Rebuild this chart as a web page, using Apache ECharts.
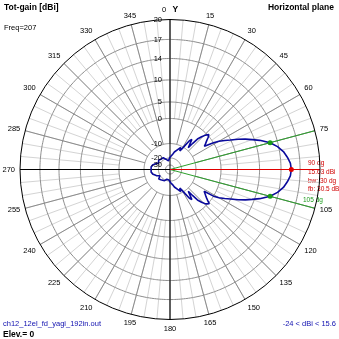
<!DOCTYPE html>
<html><head><meta charset="utf-8">
<script src="https://cdn.jsdelivr.net/npm/echarts@6/dist/echarts.min.js"></script>
<style>html,body{margin:0;padding:0;background:#fff}#c{width:339px;height:339px}</style>
</head><body><div id="c"></div><script>
// Horizontal-plane total gain (dBi) versus azimuth (degrees, 0 = up, clockwise)
const azimuthDeg = [
  0, 2, 6, 10, 14, 18, 21, 24, 26, 28, 30, 32, 34, 36, 38, 40, 41, 42, 44, 46,
  48, 49, 50, 52, 54, 56, 57.5, 58.5, 60, 62, 64, 66, 68, 70, 72, 75, 78, 81, 84, 87,
  90, 93, 96, 99, 102, 105, 108, 110, 112, 114, 116, 118, 120, 121.5, 122.5, 124, 126, 128, 130, 131,
  132, 134, 136, 138, 139, 140, 142, 144, 146, 148, 150, 152, 154, 156, 159, 162, 166, 170, 174, 178,
  180, 182, 186, 190, 194, 198, 202, 206, 210, 214, 218, 222, 226, 230, 234, 238, 242, 246, 250, 254,
  258, 262, 266, 270, 274, 278, 282, 286, 290, 294, 298, 302, 306, 310, 314, 318, 322, 326, 330, 334,
  338, 342, 346, 350, 354, 358, 360
];
const gainDbi = [
  -19.5, -19.0, -18.5, -17.2, -15.5, -14.0, -13.2, -12.0, -11.0, -13.5, -11.5, -9.0, -6.5, -5.5, -7.5, -9.0, -6.5, -4.0, -2.2, -0.6,
  0.4, 0.3, -0.5, -1.8, -2.8, -3.8, -4.2, 0.0, 1.7, 3.3, 4.9, 6.6, 8.1, 9.5, 10.9, 12.63, 13.8, 14.6, 15.1, 15.5,
  15.63, 15.5, 15.1, 14.6, 13.8, 12.63, 10.9, 9.5, 8.1, 6.6, 4.9, 3.3, 1.7, 0.0, -4.2, -3.8, -2.8, -1.8, -0.5, 0.3,
  0.4, -0.6, -2.2, -4.0, -6.5, -9.0, -7.5, -5.5, -6.5, -9.0, -11.5, -13.5, -11.0, -12.0, -13.2, -14.0, -15.5, -17.2, -18.5, -19.0,
  -19.5, -20.0, -21.5, -24.0, -23.0, -21.8, -20.6, -19.4, -18.6, -19.0, -19.8, -18.5, -17.5, -17.8, -18.8, -19.8, -19.0, -17.6, -16.8, -15.8,
  -15.3, -14.8, -14.2, -14.9, -14.2, -14.8, -15.3, -15.8, -16.8, -17.6, -19.0, -19.8, -18.8, -17.8, -17.5, -18.5, -19.8, -19.0, -18.6, -19.4,
  -20.6, -21.8, -23.0, -24.0, -21.5, -20.0, -19.5
];

// Gain scale: labelled rings and their relative radius (outer ring = 1)
const ringDbi = [-30, -20, -10, 0, 5, 10, 14, 17, 20];
const ringRadius = [0.03, 0.077, 0.173, 0.34, 0.45, 0.597, 0.74, 0.867, 1];

// Beam summary
const peakAzimuth = 90;
const peakGain = 15.63;
const beamwidth = 30;
const frontBack = 30.5;
const minGain = -24;
const maxGain = 15.6;

const OUTER = 150;
const CENTER = [170, 169.5];

function gainToRadius(g) {
  if (g <= ringDbi[0]) {
    return Math.max(0, ringRadius[0] * (g + 40) / 10);
  }
  for (let i = 1; i < ringDbi.length; i++) {
    if (g <= ringDbi[i]) {
      const t = (g - ringDbi[i - 1]) / (ringDbi[i] - ringDbi[i - 1]);
      return ringRadius[i - 1] + t * (ringRadius[i] - ringRadius[i - 1]);
    }
  }
  return 1;
}

const FONT = '"Liberation Sans", Arial, sans-serif';
const pattern = azimuthDeg.map((a, i) => [gainToRadius(gainDbi[i]), a]);

const series = [];
// scale rings
ringDbi.slice(0, -1).forEach(g => {
  const r = gainToRadius(g);
  const pts = [];
  for (let a = 0; a <= 360; a += 3) pts.push([r, a]);
  series.push({
    type: 'line', coordinateSystem: 'polar', polarIndex: 0, data: pts,
    showSymbol: false, silent: true, smooth: true, z: 3,
    lineStyle: { color: '#8c8c8c', width: 1 }
  });
});
// ring labels along the 0 deg spoke
series.push({
  type: 'scatter', coordinateSystem: 'polar', polarIndex: 0, z: 20, silent: true,
  symbolSize: 0,
  itemStyle: { opacity: 1 },
  data: ringDbi.map(g => [gainToRadius(g), 0, g]),
  label: {
    show: true, position: 'left', distance: 8, opacity: 1,
    textBorderWidth: 0,
    formatter: p => String(p.data[2]),
    fontFamily: FONT, fontSize: 7.5, color: '#000'
  }
});
// main axes through the centre
series.push({
  type: 'line', coordinateSystem: 'polar', polarIndex: 0, z: 5, silent: true, showSymbol: false,
  data: [[1, 0], [0, 0], [1, 180]], lineStyle: { color: '#000', width: 1 }
});
series.push({
  type: 'line', coordinateSystem: 'polar', polarIndex: 0, z: 5, silent: true, showSymbol: false,
  data: [[1, 270], [0, 0], [1, 90]], lineStyle: { color: '#000', width: 1 }
});
// half-power directions
[peakAzimuth - beamwidth / 2, peakAzimuth + beamwidth / 2].forEach(a => {
  series.push({
    type: 'line', coordinateSystem: 'polar', polarIndex: 0, z: 6, silent: true, showSymbol: false,
    data: [[0, a], [1, a]], lineStyle: { color: '#2ca02c', width: 1 }
  });
});
// peak direction
series.push({
  type: 'line', coordinateSystem: 'polar', polarIndex: 0, z: 6, silent: true, showSymbol: false,
  data: [[0, peakAzimuth], [1, peakAzimuth]], lineStyle: { color: '#e00000', width: 1 }
});
// gain pattern
series.push({
  type: 'line', coordinateSystem: 'polar', polarIndex: 0, z: 10, silent: true, showSymbol: false,
  data: pattern, lineStyle: { color: '#0a0a9c', width: 1.6 }
});
// markers: peak and half-power points
series.push({
  type: 'scatter', coordinateSystem: 'polar', polarIndex: 0, z: 12, silent: true,
  symbolSize: 5, itemStyle: { opacity: 1 },
  data: [
    { value: [gainToRadius(peakGain - 3), peakAzimuth - beamwidth / 2], itemStyle: { color: '#1a9a1a' } },
    { value: [gainToRadius(peakGain - 3), peakAzimuth + beamwidth / 2], itemStyle: { color: '#1a9a1a' } },
    { value: [gainToRadius(peakGain), peakAzimuth], itemStyle: { color: '#e00000' } }
  ]
});

const hiddenRadius = { min: 0, max: 1, show: false, axisLine: { show: false }, axisLabel: { show: false }, splitLine: { show: false }, axisTick: { show: false } };

const option = {
  backgroundColor: '#fff',
  animation: false,
  polar: [
    { center: CENTER, radius: [0, OUTER] },
    { center: CENTER, radius: [OUTER * gainToRadius(-10), OUTER] },
    { center: CENTER, radius: [OUTER * gainToRadius(0), OUTER] }
  ],
  radiusAxis: [
    Object.assign({ polarIndex: 0 }, hiddenRadius),
    Object.assign({ polarIndex: 1 }, hiddenRadius),
    Object.assign({ polarIndex: 2 }, hiddenRadius)
  ],
  angleAxis: [
    {
      polarIndex: 0, type: 'value', min: 0, max: 360, interval: 15, startAngle: 90, clockwise: true, z: 8,
      axisLine: { lineStyle: { color: '#000', width: 1 } },
      axisTick: { show: false }, splitLine: { show: false },
      axisLabel: {
        fontFamily: FONT, fontSize: 7.5, color: '#000', margin: 5,
        formatter: v => (v === 360 || v === peakAzimuth) ? '' : (v === 0 ? '0   {y|Y}' : String(v)),
        rich: { y: { fontFamily: FONT, fontSize: 8.5, fontWeight: 'bold', color: '#000' } }
      }
    },
    {
      polarIndex: 1, type: 'value', min: 0, max: 360, interval: 15, startAngle: 90, clockwise: true, z: 1,
      axisLine: { show: false }, axisTick: { show: false }, axisLabel: { show: false },
      splitLine: { show: true, lineStyle: { color: '#8c8c8c', width: 1 } }
    },
    {
      polarIndex: 2, type: 'value', min: 0, max: 360, interval: 5, startAngle: 90, clockwise: true, z: 0,
      axisLine: { show: false }, axisTick: { show: false }, axisLabel: { show: false },
      splitLine: { show: true, lineStyle: { color: '#d4d4d4', width: 1 } }
    }
  ],
  graphic: [
    { type: 'text', left: 4, top: 3, style: { text: 'Tot-gain [dBi]', font: 'bold 8.5px ' + FONT, fill: '#000' } },
    { type: 'text', left: 4, top: 24, style: { text: 'Freq=207', font: '7.5px ' + FONT, fill: '#000' } },
    { type: 'text', right: 5, top: 3, style: { text: 'Horizontal plane', font: 'bold 8.5px ' + FONT, fill: '#000' } },
    { type: 'text', left: 3, top: 320, style: { text: 'ch12_12el_fd_yagi_192in.out', font: '7.5px ' + FONT, fill: '#1010b0' } },
    { type: 'text', left: 3, top: 330, style: { text: 'Elev.= 0', font: 'bold 8.5px ' + FONT, fill: '#000' } },
    { type: 'text', right: 3, top: 320, style: { text: minGain + ' < dBi < ' + maxGain, font: '7.5px ' + FONT, fill: '#1010b0' } },
    { type: 'text', left: 308, top: 159, style: { text: peakAzimuth + ' dg\n' + peakGain + ' dBi\nbw: ' + beamwidth + ' dg\nfb: ' + frontBack + ' dB', font: '6.5px ' + FONT, fill: '#d00000', lineHeight: 8.7 } },
    { type: 'text', left: 303, top: 197, style: { text: (peakAzimuth + beamwidth / 2) + ' dg', font: '6.5px ' + FONT, fill: '#1a9a1a' } }
  ],
  series: series
};

const chart = echarts.init(document.getElementById('c'), null, { renderer: 'canvas' });
chart.setOption(option);
</script></body></html>
